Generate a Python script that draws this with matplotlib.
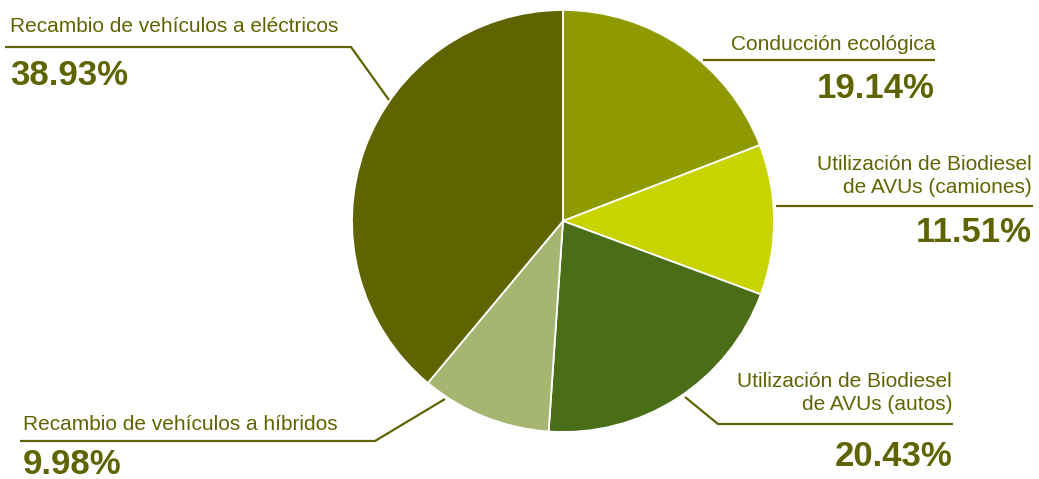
import matplotlib
matplotlib.use("Agg")
import matplotlib.pyplot as plt

# ---- data ----
categories = [
    "Conducción ecológica",
    "Utilización de Biodiesel\nde AVUs (camiones)",
    "Utilización de Biodiesel\nde AVUs (autos)",
    "Recambio de vehículos a híbridos",
    "Recambio de vehículos a eléctricos",
]
values = [19.14, 11.51, 20.43, 9.98, 38.93]
colors = ["#8f9a00", "#c8d400", "#4a6e18", "#a6b570", "#5f6400"]
pct_labels = ["19.14%", "11.51%", "20.43%", "9.98%", "38.93%"]

TXT = "#5f6400"
W, H = 1039, 479
plt.rcParams["font.family"] = ["Liberation Sans", "DejaVu Sans"]

fig = plt.figure(figsize=(W / 100, H / 100), dpi=100)
ax = fig.add_axes([0, 0, 1, 1])


def py(y):
    return H - y


cx, cy, r = 563, 221, 211
ax.pie(values, colors=colors, startangle=90, counterclock=False,
       center=(cx, py(cy)), radius=r, frame=True,
       wedgeprops=dict(edgecolor="white", linewidth=1.3))
ax.set_xlim(0, W)
ax.set_ylim(0, H)
ax.set_aspect("equal")
ax.axis("off")

# layout of labels: (text x, text y, ha, pct x, pct y, leader polyline)
layout = [
    (935, 44, "right", 935, 88, [(703, 60), (935, 60)]),
    (1032, 176, "right", 1032, 232, [(776, 206), (1033, 206)]),
    (952, 393, "right", 952, 457, [(685, 397), (718, 424), (953, 424)]),
    (23, 425, "left", 23, 464, [(445, 399), (375, 441), (20, 441)]),
    (10, 26, "left", 10, 75, [(389, 100), (351, 47), (5, 47)]),
]

for cat, pct, (tx, ty, ha, px_, pyy, line) in zip(categories, pct_labels, layout):
    ax.text(tx, py(ty), cat, ha=ha, va="center", fontsize=15, color=TXT,
            linespacing=1.3, multialignment=ha)
    ax.text(px_, py(pyy), pct, ha=ha, va="center", fontsize=25,
            fontweight="bold", color=TXT)
    xs = [p[0] for p in line]
    ys = [py(p[1]) for p in line]
    ax.plot(xs, ys, color=TXT, lw=1.6, solid_capstyle="butt")

fig.savefig("out.png", dpi=100)
